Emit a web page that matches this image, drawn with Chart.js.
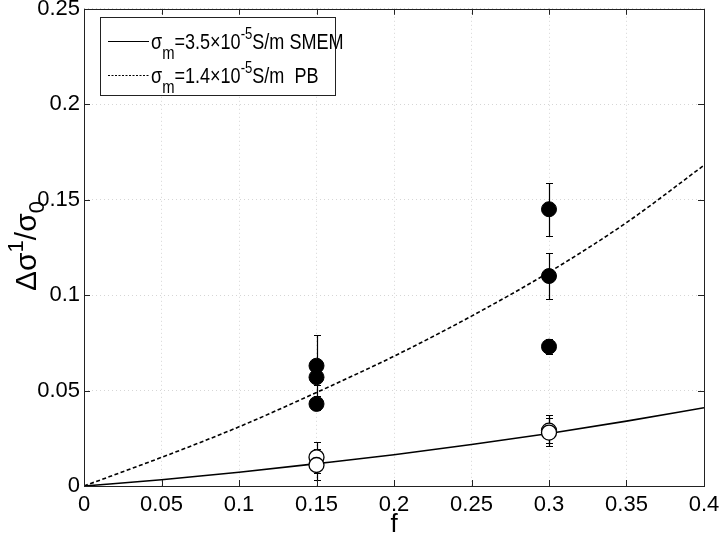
<!DOCTYPE html>
<html>
<head>
<meta charset="utf-8">
<script src="https://cdn.jsdelivr.net/npm/chart.js@4"></script>
<style>
html,body{margin:0;padding:0;background:#fff;}
#wrap{width:720px;height:536px;}
</style>
</head>
<body>
<div id="wrap"><canvas id="c" width="720" height="536"></canvas></div>
<script>
// ---- data ----
const xTickLabels = ['0','0.05','0.1','0.15','0.2','0.25','0.3','0.35','0.4'];
const yTickLabels = ['0','0.05','0.1','0.15','0.2','0.25'];

const curveF = [0, 0.05, 0.1, 0.15, 0.2, 0.25, 0.3, 0.35, 0.4];
const smemY  = [0, 0.0033, 0.0072, 0.0117, 0.0164, 0.0217, 0.0275, 0.0340, 0.0410];
const pbY    = [0, 0.0150, 0.0310, 0.0490, 0.0680, 0.0890, 0.1120, 0.1380, 0.1680];

const filledF  = [0.15, 0.15, 0.15, 0.3, 0.3, 0.3];
const filledY  = [0.063, 0.057, 0.043, 0.145, 0.110, 0.073];
const filledLo = [0.047, 0.053, 0.040, 0.131, 0.098, 0.069];
const filledHi = [0.079, 0.061, 0.046, 0.159, 0.122, 0.077];

const openF  = [0.15, 0.15, 0.3, 0.3];
const openY  = [0.015, 0.011, 0.029, 0.028];
const openLo = [0.007, 0.003, 0.021, 0.0225];
const openHi = [0.023, 0.0195, 0.037, 0.0355];

const FONT = '"Liberation Sans", Arial, Helvetica, sans-serif';

function pts(xs, ys){ return xs.map((x,i)=>({x:x, y:ys[i]})); }

function drawRich(ctx, x, y, parts, sx){
  sx = sx || 1;
  ctx.save();
  ctx.translate(x, y);
  ctx.scale(sx, 1);
  let cx = 0;
  parts.forEach(p=>{
    ctx.font = p.s + 'px ' + FONT;
    ctx.fillText(p.t, cx, (p.dy||0));
    cx += ctx.measureText(p.t).width;
  });
  ctx.restore();
  return cx * sx;
}
function richWidth(ctx, parts){
  let w = 0;
  parts.forEach(p=>{ ctx.font = p.s + 'px ' + FONT; w += ctx.measureText(p.t).width; });
  return w;
}

const errorBars = {
  id: 'errorBars',
  beforeDatasetsDraw(chart){
    const ctx = chart.ctx, xs = chart.scales.x, ys = chart.scales.y;
    ctx.save();
    ctx.strokeStyle = '#000';
    ctx.lineWidth = 1.2;
    const draw = (F, L, H) => {
      F.forEach((f,i)=>{
        const px = Math.round(xs.getPixelForValue(f))+0.5;
        const pl = Math.round(ys.getPixelForValue(L[i]))+0.5;
        const ph = Math.round(ys.getPixelForValue(H[i]))+0.5;
        ctx.beginPath();
        ctx.moveTo(px, pl); ctx.lineTo(px, ph);
        ctx.moveTo(px-3.5, pl); ctx.lineTo(px+3.5, pl);
        ctx.moveTo(px-3.5, ph); ctx.lineTo(px+3.5, ph);
        ctx.stroke();
      });
    };
    draw(filledF, filledLo, filledHi);
    draw(openF, openLo, openHi);
    ctx.restore();
  }
};

const frame = {
  id: 'frame',
  afterDraw(chart){
    const ctx = chart.ctx, a = chart.chartArea;
    const xs = chart.scales.x, ys = chart.scales.y;
    ctx.save();
    ctx.strokeStyle = '#222';
    ctx.lineWidth = 1;
    ctx.strokeRect(Math.round(a.left)+0.5, Math.round(a.top)+0.5,
                   Math.round(a.right-a.left), Math.round(a.bottom-a.top));
    ctx.beginPath();
    xs.ticks.forEach(t=>{
      const px = Math.round(xs.getPixelForValue(t.value))+0.5;
      ctx.moveTo(px, a.bottom); ctx.lineTo(px, a.bottom-6);
      ctx.moveTo(px, a.top); ctx.lineTo(px, a.top+6);
    });
    ys.ticks.forEach(t=>{
      const py = Math.round(ys.getPixelForValue(t.value))+0.5;
      ctx.moveTo(a.left, py); ctx.lineTo(a.left+6, py);
      ctx.moveTo(a.right, py); ctx.lineTo(a.right-6, py);
    });
    ctx.stroke();

    ctx.fillStyle = '#000';
    ctx.textBaseline = 'alphabetic';
    // x title
    ctx.font = '26px ' + FONT;
    ctx.textAlign = 'center';
    ctx.fillText('f', (a.left+a.right)/2, 532);

    // y title (rotated)
    ctx.textAlign = 'left';
    const yParts = [
      {t:'\u0394\u03C3', s:30, dy:0},
      {t:'1', s:22, dy:-13},
      {t:'/\u03C3', s:30, dy:0},
      {t:'0', s:22, dy:8}
    ];
    const yw = richWidth(ctx, yParts);
    ctx.save();
    ctx.translate(36, 246);
    ctx.rotate(-Math.PI/2);
    drawRich(ctx, -yw/2, 0, yParts, 1);
    ctx.restore();

    // legend
    const lx = 100, ly = 17, lw = 235, lh = 78;
    ctx.fillStyle = '#fff';
    ctx.fillRect(lx, ly, lw, lh);
    ctx.strokeStyle = '#222';
    ctx.lineWidth = 1;
    ctx.strokeRect(lx+0.5, ly+0.5, lw, lh);
    ctx.strokeStyle = '#000';
    ctx.lineWidth = 1.2;
    ctx.beginPath(); ctx.moveTo(108, 41.5); ctx.lineTo(149, 41.5); ctx.stroke();
    ctx.setLineDash([2,1.5]);
    ctx.beginPath(); ctx.moveTo(108, 75.5); ctx.lineTo(149, 75.5); ctx.stroke();
    ctx.setLineDash([]);
    ctx.fillStyle = '#000';
    const SX = 0.82;
    drawRich(ctx, 151, 49, [
      {t:'\u03C3', s:22}, {t:'m', s:18, dy:10}, {t:'=3.5\u00D710', s:22},
      {t:'-5', s:16, dy:-10}, {t:'S/m SMEM', s:22}
    ], SX);
    drawRich(ctx, 151, 83, [
      {t:'\u03C3', s:22}, {t:'m', s:18, dy:10}, {t:'=1.4\u00D710', s:22},
      {t:'-5', s:16, dy:-10}, {t:'S/m  PB', s:22}
    ], SX);
    ctx.restore();
  }
};

new Chart(document.getElementById('c'), {
  type: 'scatter',
  data: {
    datasets: [
      { label:'SMEM', type:'line', data: pts(curveF, smemY), borderColor:'#000', borderWidth:1.6,
        pointRadius:0, fill:false, cubicInterpolationMode:'monotone', order:3 },
      { label:'PB', type:'line', data: pts(curveF, pbY), borderColor:'#000', borderWidth:1.6,
        borderDash:[4,2.5], pointRadius:0, fill:false, cubicInterpolationMode:'monotone', order:3 },
      { label:'filled', data: pts(filledF, filledY), pointRadius:7.5, pointBackgroundColor:'#000',
        pointBorderColor:'#000', pointBorderWidth:1, order:1 },
      { label:'open', data: pts(openF, openY), pointRadius:7.5, pointBackgroundColor:'#fff',
        pointBorderColor:'#000', pointBorderWidth:1.3, order:2 }
    ]
  },
  options: {
    responsive:false, animation:false, devicePixelRatio:1,
    layout:{ padding:{ left:0, right:16, top:8, bottom:0 } },
    plugins:{ legend:{display:false}, tooltip:{enabled:false} },
    scales:{
      x:{
        type:'linear', min:0, max:0.4,
        afterFit(s){ s.height = 50; s.paddingLeft = 0; s.paddingRight = 0; },
        ticks:{ stepSize:0.05, color:'#000', padding:6, maxRotation:0, autoSkip:false,
          font:{ family:FONT, size:22 },
          callback:(v,i)=> xTickLabels[i] },
        grid:{ color:'#d6d6d6', drawTicks:false, lineWidth:1 },
        border:{ display:false, dash:[1,3] }
      },
      y:{
        type:'linear', min:0, max:0.25,
        afterFit(s){ s.width = 84; s.paddingTop = 0; s.paddingBottom = 0; },
        ticks:{ stepSize:0.05, color:'#000', padding:4, autoSkip:false,
          font:{ family:FONT, size:22 },
          callback:(v,i)=> yTickLabels[i] },
        grid:{ color:'#d6d6d6', drawTicks:false, lineWidth:1 },
        border:{ display:false, dash:[1,3] }
      }
    }
  },
  plugins:[errorBars, frame]
});
</script>
</body>
</html>
